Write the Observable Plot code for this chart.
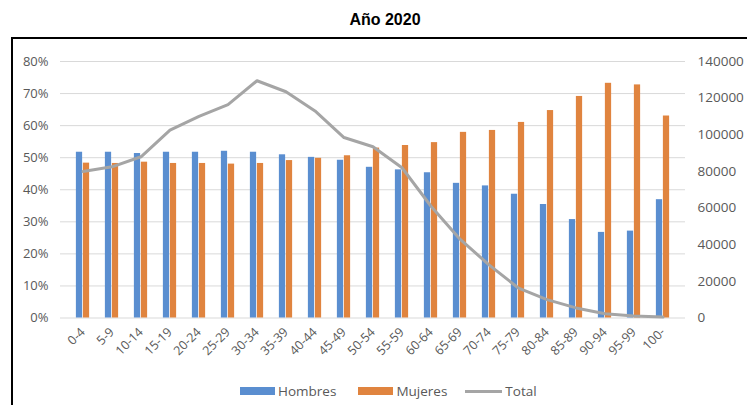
<!DOCTYPE html>
<html><head><meta charset="utf-8">
<script src="https://cdn.jsdelivr.net/npm/d3@7"></script>
<script src="https://cdn.jsdelivr.net/npm/@observablehq/plot@0.6"></script>
<style>
body{margin:0;background:#fff;width:747px;height:405px;overflow:hidden;position:relative;font-family:"Open Sans",sans-serif;}
#title{position:absolute;left:0;width:770px;top:11px;text-align:center;font:bold 16px "Liberation Sans",Arial,sans-serif;color:#000;}
#frame{position:absolute;left:11px;top:37px;width:800px;height:400px;border:2.5px solid #000;box-sizing:border-box;}
#chart{position:absolute;left:0;top:0;}
#legend{position:absolute;top:382px;left:240px;display:flex;align-items:center;font-size:13.5px;color:#595959;}
#legend .it{display:flex;align-items:center;}
#legend .sw{width:35px;height:8px;margin-right:3px;}
#legend .ln{width:37px;height:3px;background:#a5a5a5;margin-right:3px;}
</style>
</head><body>
<div id="title">Año 2020</div>
<div id="frame"></div>
<div id="chart"></div>
<div id="legend"></div>
<script>
const ages = ["0-4","5-9","10-14","15-19","20-24","25-29","30-34","35-39","40-44","45-49","50-54","55-59","60-64","65-69","70-74","75-79","80-84","85-89","90-94","95-99","100-"];
const hombres = [51.7,51.7,51.3,51.7,51.7,52.0,51.7,50.9,50.1,49.2,47.0,46.2,45.3,42.0,41.2,38.6,35.4,30.7,26.7,27.1,36.9];
const mujeres = [48.3,48.2,48.6,48.2,48.2,48.0,48.2,49.1,49.8,50.6,53.0,53.8,54.7,57.9,58.5,61.0,64.7,69.1,73.2,72.7,63.0];
const total = [80000,82500,88000,102500,110000,116500,129500,123500,113000,98500,93500,82000,61000,43000,29000,16500,10000,5500,2300,1100,500];
const leftTicks = [0,10,20,30,40,50,60,70,80];
const rightTicks = [0,20000,40000,60000,80000,100000,120000,140000];
const rightMax = 140000, leftMax = 80;

const toLeft = v => v / rightMax * leftMax;
const rows = ages.map((a,i)=>({age:a, h:hombres[i], m:mujeres[i], t:toLeft(total[i])}));

const W = 747, H = 405, mL = 60, mR = 62;
const bw = (W - mL - mR) / ages.length;
const barW = 7;

const chart = Plot.plot({
  width: W, height: H,
  marginTop: 61, marginBottom: 87.5, marginLeft: mL, marginRight: mR,
  style: {fontFamily: "'Open Sans', sans-serif", fontSize: "13px", color: "#595959", background: "transparent"},
  x: {type: "band", domain: ages, padding: 0, axis: null},
  y: {domain: [0, leftMax], axis: null},
  marks: [
    Plot.gridY(leftTicks, {stroke: "#d9d9d9", strokeOpacity: 1, strokeWidth: 1}),
    Plot.axisY(leftTicks, {anchor: "left", tickSize: 0, tickPadding: 12, tickFormat: d => d + "%", fill: "#595959", fontSize: 13, label: null}),
    Plot.axisY(rightTicks.map(toLeft), {anchor: "right", tickSize: 0, tickPadding: 12, tickFormat: (d, i) => String(rightTicks[i]), fill: "#595959", fontSize: 13.5, label: null}),
    Plot.axisX(ages, {anchor: "bottom", tickSize: 0, tickPadding: 12, tickRotate: -45, fill: "#595959", fontSize: 12.5, label: null}),
    Plot.barY(rows, {x: "age", y: "h", fill: "#5a8ed0", insetLeft: bw/2 - barW, insetRight: bw/2}),
    Plot.barY(rows, {x: "age", y: "m", fill: "#e0843f", insetLeft: bw/2, insetRight: bw/2 - barW}),
    Plot.line(rows, {x: "age", y: "t", stroke: "#a5a5a5", strokeWidth: 3, curve: "linear"})
  ]
});
document.getElementById("chart").appendChild(chart);

const legendItems = [["Hombres","#5a8ed0","bar"],["Mujeres","#e0843f","bar"],["Total","#a5a5a5","line"]];
const lg = document.getElementById("legend");
legendItems.forEach(([name,color,kind],i)=>{
  const it = document.createElement("div"); it.className="it";
  if(i>0) it.style.marginLeft = (i===1?"22px":"18px");
  const sw = document.createElement("div");
  sw.className = kind==="bar"?"sw":"ln"; sw.style.background = color;
  const tx = document.createElement("span"); tx.textContent = name;
  it.appendChild(sw); it.appendChild(tx); lg.appendChild(it);
});
</script>
</body></html>
